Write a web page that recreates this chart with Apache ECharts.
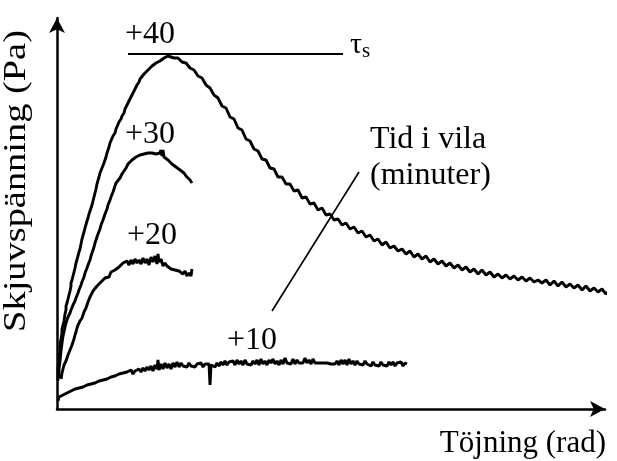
<!DOCTYPE html>
<html>
<head>
<meta charset="utf-8">
<script src="https://cdn.jsdelivr.net/npm/echarts@6/dist/echarts.min.js"></script>
<style>
  html, body { margin: 0; padding: 0; background: #fff; }
  #chart { width: 617px; height: 461px; }
</style>
</head>
<body>
<div id="chart"></div>
<script>
// Shear stress vs. strain after different rest times (minutes).
// Units are arbitrary: the axes carry no ticks, only direction arrows.

const restTimes = ['+40', '+30', '+20', '+10'];

// Stress curve after 40 min rest: rises to the yield peak, then decays.
const curve40 = [
  [1,28],[1,40],[2,50],[3,58],[3,64],[4,70],[5,76],[5,80],[6,84],[7,88],[8,95],[9,99],[9,103],[10,106],
  [11,110],[12,112],[13,118],[14,123],[14,126],[15,129],[16,133],[17,134],[18,141],[19,146],[20,148],
  [21,153],[22,157],[23,160],[24,165],[25,170],[26,172],[27,177],[28,181],[29,183],[30,188],[31,191],
  [32,195],[33,197],[34,201],[35,204],[36,208],[37,212],[38,216],[39,220],[40,225],[41,227],[42,232],
  [43,236],[44,237],[45,241],[46,243],[47,246],[48,248],[49,252],[50,256],[51,258],[52,262],[53,266],
  [55,268],[56,273],[58,276],[59,280],[61,282],[62,287],[64,290],[65,293],[67,296],[68,300],[70,302],
  [71,306],[73,308],[74,312],[76,314],[77,318],[79,320],[80,324],[82,327],[83,330],[85,331],[87,335],
  [89,336],[91,339],[93,340],[95,343],[97,343],[99,346],[101,346],[103,348],[105,348],[107,351],
  [109,350],[111,353],[113,354],
  [117,351],[121,351],[125,347],[129,346],[133,341],[137,339],[141,333],[145,331],[149,324],[153,321],
  [157,314],[161,311],[165,303],[169,301],[173,292],[177,290],[181,281],[185,279],[189,270],[193,268],
  [197,260],[201,258],[205,250],[209,249],[213,241],[217,240],[221,232],[225,232],[229,225],[233,225],
  [237,218],[241,219],[245,211],[249,212],[253,205],[257,206],[261,199],[265,201],[269,194],[273,195],
  [277,189],[281,190],[285,184],[289,186],[293,180],[297,182],[301,176],[305,178],[309,172],[313,174],
  [317,168],[321,170],[325,164],[329,167],[333,161],[337,163],[341,158],[345,160],[349,155],[353,158],
  [357,152],[361,155],[365,150],[369,153],[373,147],[377,150],[381,145],[385,148],[389,143],[393,146],
  [397,141],[401,144],[405,139],[409,142],[413,137],[417,140],[421,135],[425,139],[429,134],[433,137],
  [437,132],[441,135],[445,131],[449,134],[453,130],[457,133],[461,129],[465,132],[469,128],[473,131],
  [477,127],[481,129],[485,126],[489,129],[493,124],[497,128],[501,123],[505,127],[509,122],[513,125],
  [517,121],[521,124],[525,119],[529,123],[533,118],[537,121],[541,117],[545,120],[549,115],[553,119],
  [557,114],[559,117]
];

// After 30 min rest
const curve30 = [
  [2,31],[2,40],[3,48],[4,58],[5,66],[6,73],[7,77],[8,82],[9,86],[10,88],[11,92],[13,96],[14,99],
  [15,101],[16,104],[18,108],[19,111],[20,112],[21,116],[22,119],[23,120],[24,124],[25,127],[26,129],
  [27,132],[28,136],[29,138],[30,141],[31,144],[32,146],[33,149],[34,153],[35,156],[36,158],[37,162],
  [38,166],[39,168],[40,172],[41,175],[42,177],[43,180],[44,184],[45,186],[46,189],[47,192],[48,195],
  [49,197],[50,200],[51,204],[52,206],[53,209],[54,212],[55,214],[56,217],[57,220],[58,222],[59,226],
  [61,228],[63,231],[65,235],[67,238],[69,241],[71,245],[73,247],[75,249],[77,251],[79,252],[81,253],
  [83,254],[85,253],[87,255],[89,254],[91,256],[93,255],[95,256],[97,254],[99,255],[101,254],[103,256],
  [104,259],[105,253],[106,259],[107,252],[109,251],[111,249],[113,248],[115,245],[117,244],[119,242],
  [121,241],[123,239],[125,237],[127,236],[129,233],[131,231],[133,229],[135,226]
];

// After 20 min rest
const curve20 = [
  [4,30],[5,36],[6,40],[7,44],[8,46],[9,48],[10,50],[11,54],[12,56],[13,59],[14,60],[15,64],[16,66],
  [17,70],[18,74],[19,77],[20,81],[21,84],[22,86],[23,88],[24,90],[25,91],[26,94],[27,97],[28,99],
  [29,101],[30,103],[31,107],[32,109],[33,112],[35,114],[36,118],[38,120],[40,123],[42,123],[44,127],
  [46,128],[48,131],[50,133],[52,132],[54,137],[56,136],[58,139],[60,138],[62,142],[64,141],[66,146],
  [68,144],[70,148],[72,144],[74,149],[76,145],[78,150],[80,146],[82,149],[84,145],[86,151],[88,146],
  [90,150],[92,144],[94,152],[96,147],[98,153],[100,145],[101,155],[102,147],[104,150],[106,143],
  [108,146],[110,143],[112,144],[114,140],[116,142],[118,139],[120,141],[122,138],[124,139],[126,135],
  [128,138],[130,133],[132,136],[134,133],[135,140]
];

// After 10 min rest
const curve10 = [
  [1,8],[2,12],[4,11],[6,14],[8,13],[10,16],[12,15],[14,18],[16,17],[18,20],[20,18],[22,21],[24,20],
  [26,22],[28,21],[30,24],[32,23],[34,25],[36,24],[38,26],[40,25],[42,28],[44,26],[46,29],[48,27],
  [50,30],[52,29],[54,32],[56,30],[58,33],[60,31],[62,35],[64,33],[66,36],[68,34],[70,37],[72,35],
  [74,39],[76,35],[78,38],[80,36],[82,40],[84,37],[86,41],[88,38],[90,42],[92,39],[94,43],[96,38],
  [98,44],[100,40],[101,49],[102,39],[104,45],[106,40],[108,46],[110,41],[112,45],[114,40],[116,46],
  [118,42],[120,47],[122,42],[124,46],[126,43],[128,45],[130,42],[132,46],[134,43],[136,45],[138,42],
  [140,45],[142,43],[144,46],[146,42],[148,45],[150,43],[152,45],[153,24],[154,44],[156,46],[158,42],
  [160,46],[162,43],[164,47],[166,44],[168,48],[170,44],[172,47],[174,45],[176,48],[178,44],[180,49],
  [182,45],[184,48],[186,44],[188,49],[190,45],[192,47],[194,44],[196,48],[198,45],[200,49],[202,44],
  [204,50],[206,45],[208,48],[210,44],[212,49],[214,46],[216,50],[218,45],[220,48],[222,44],[224,49],
  [226,45],[228,51],[230,46],[232,48],[234,45],[236,50],[238,45],[240,49],[242,46],[244,48],[246,46],
  [248,51],[250,46],[252,49],[254,45],[256,50],[258,46],[260,48],[262,46],[264,47],[266,46],[268,47],
  [270,46],[272,46],[274,45],[276,46],[278,45],[280,48],[282,44],[284,49],[286,45],[288,49],[290,44],
  [292,50],[294,45],[296,48],[298,44],[300,48],[302,45],[304,47],[306,44],[308,48],[310,45],[312,46],
  [314,43],[316,47],[318,44],[320,46],[322,43],[324,47],[326,44],[328,46],[330,43],[332,47],[334,44],
  [336,47],[338,43],[340,46],[342,44],[344,47],[346,43],[348,46],[350,45]
];

// Yield stress level (tau_s) and the pointer line for the rest-time note
const yieldLine = [[71,355],[286,355]];
const restPointer = [[215,98],[302,237]];

const chart = echarts.init(document.getElementById('chart'), null, { renderer: 'canvas' });

const serif = '"Liberation Serif", "DejaVu Serif", serif';
const ink = '#000';

function curveSeries(name, data, width) {
  return {
    name: name,
    type: 'line',
    data: data,
    showSymbol: false,
    symbol: 'none',
    clip: false,
    lineStyle: { color: ink, width: width },
    silent: true,
    animation: false
  };
}

const axisCommon = {
  type: 'value',
  axisTick: { show: false },
  axisLabel: { show: false },
  splitLine: { show: false },
  axisLine: {
    show: true,
    onZero: false,
    symbol: ['none', 'arrow'],
    symbolSize: [12, 15],
    lineStyle: { color: ink, width: 2.5 }
  }
};

function note(text, left, top) {
  return { type: 'text', left: left, top: top, style: { text: text, font: '32px ' + serif, fill: ink } };
}

chart.setOption({
  backgroundColor: '#fff',
  animation: false,
  grid: { left: 57, right: 12, top: 18, bottom: 52 },
  xAxis: Object.assign({}, axisCommon, { min: 0, max: 548 }),
  yAxis: Object.assign({}, axisCommon, { min: 0, max: 391 }),
  series: [
    curveSeries(restTimes[0], curve40, 2.9),
    curveSeries(restTimes[1], curve30, 2.9),
    curveSeries(restTimes[2], curve20, 2.9),
    curveSeries(restTimes[3], curve10, 2.9),
    curveSeries('tau_s', yieldLine, 2),
    curveSeries('rest', restPointer, 1.6)
  ],
  graphic: [
    note(restTimes[0], 125, 19),
    note(restTimes[1], 125, 119),
    note(restTimes[2], 127, 220),
    note(restTimes[3], 227, 325),
    {
      type: 'text', left: 350, top: 30,
      style: {
        text: '{t|τ}{s|s}',
        rich: {
          t: { font: '30px ' + serif, fill: ink },
          s: { font: '21px ' + serif, fill: ink, padding: [12, 0, 0, 0] }
        }
      }
    },
    note('Tid i vila', 370, 124),
    note('(minuter)', 370, 160),
    {
      type: 'text', right: 11, top: 428,
      style: { text: 'Töjning (rad)', font: '31px ' + serif, fill: ink }
    },
    {
      type: 'text', x: 17, y: 181, rotation: Math.PI / 2, scaleX: 1.2,
      style: {
        text: 'Skjuvspänning (Pa)', font: '32px ' + serif, fill: ink,
        align: 'center', verticalAlign: 'middle'
      }
    }
  ]
});
</script>
</body>
</html>
